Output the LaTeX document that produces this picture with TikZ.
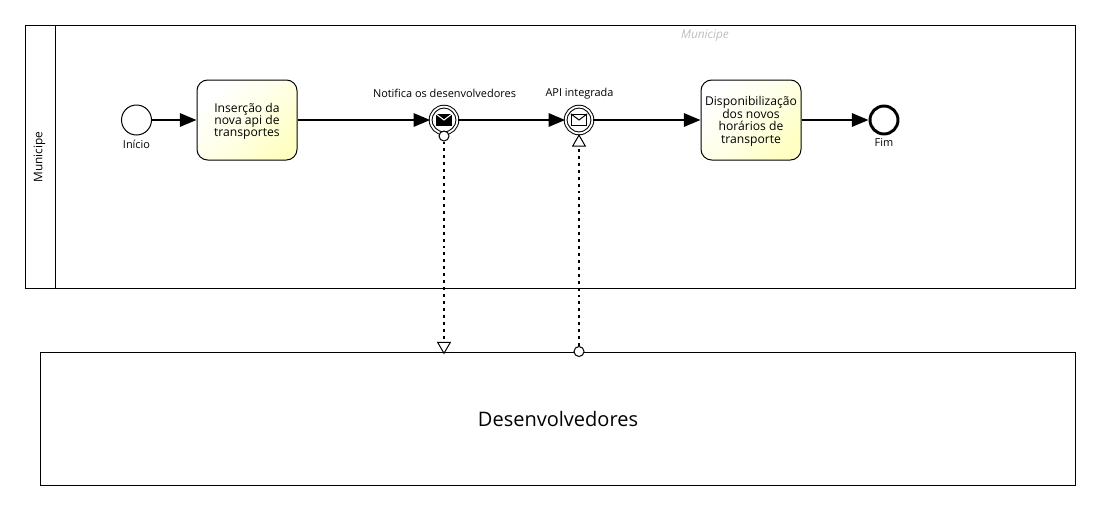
\documentclass[tikz,border=0pt]{standalone}
\usepackage{fontspec}
\setmainfont{Open Sans}
\usetikzlibrary{arrows.meta,shapes.geometric}
\definecolor{taskyellow}{RGB}{255,255,195}
\definecolor{taskpale}{RGB}{255,255,232}
\newcommand{\tasktop}{\rule{0pt}{9pt}}
\tikzset{
	seqflow/.style={line width=1.7pt,-{Triangle[length=12.5pt,width=10pt]}},
	msgflow/.style={line width=1.9pt,dash pattern=on 2.2pt off 3pt},
	lanebox/.style={draw,line width=0.75pt,inner sep=0pt,anchor=north west,fill=white},
	taskbox/.style={draw,line width=0.75pt,rounded corners=8pt,minimum width=75pt,minimum height=60pt,inner sep=0pt,align=center,font=\fontsize{9.1}{9.3}\selectfont,top color=white,bottom color=taskyellow,middle color=taskpale,shading angle=45},
	startevent/.style={circle,draw,line width=0.75pt,fill=white,minimum size=22.5pt,inner sep=0pt},
	endevent/.style={circle,draw,line width=2.2pt,fill=white,minimum size=21pt,inner sep=0pt},
	msgevent/.style={circle,draw,line width=0.75pt,fill=white,minimum size=20pt,inner sep=0pt,double,double distance=1.4pt},
	envelope/.style={rectangle,draw,line width=0.75pt,minimum width=11.5pt,minimum height=8.5pt,inner sep=0pt},
	flowend/.style={circle,draw,line width=0.75pt,fill=white,minimum size=7.5pt,inner sep=0pt},
	opentip/.style={regular polygon,regular polygon sides=3,draw,line width=0.75pt,fill=white,minimum size=11pt,inner sep=0pt},
	eventlabel/.style={font=\fontsize{8.2}{9}\selectfont,inner sep=0.75pt}
}
\begin{document}
\begin{tikzpicture}[x=0.75pt,y=0.75pt,yscale=-1]
	\useasboundingbox (0,0) rectangle (1100,511);
	% lane
	\node (lane) [lanebox,minimum width=787.5pt,minimum height=197.25pt] at (25,25) {};
	\node (laneHead) [lanebox,minimum width=22.5pt,minimum height=197.25pt] at (25,25) {};
	\node (laneName) [eventlabel,rotate=90,font=\fontsize{8.9}{9}\selectfont] at (39.5,157) {Municipe};
	\node (laneTag) [eventlabel,text=black!25,font=\fontsize{8.9}{9}\selectfont\itshape] at (705,36) {Municipe};
	% pool
	\node (pool) [lanebox,minimum width=776.25pt,minimum height=100.1pt] at (40,351.5) {};
	\node (poolName) [inner sep=0.75pt,font=\fontsize{15}{16}\selectfont] at (558,419) {Desenvolvedores};
	% flow elements
	\node (inicio) [startevent] at (136.5,120) {};
	\node (insercao) [taskbox] at (247,120) {\tasktop Inserção da\\nova api de\\transportes};
	\node (notifica) [msgevent] at (444,120) {};
	\node (integrada) [msgevent] at (579,120) {};
	\node (dispon) [taskbox] at (751,120) {\tasktop Disponibilização\\dos novos\\horários de\\transporte};
	\node (fim) [endevent] at (884,120) {};
	\node (inicioLabel) [eventlabel] at (136.5,144) {Início};
	\node (notificaLabel) [eventlabel] at (444.5,93.5) {Notifica os desenvolvedores};
	\node (integradaLabel) [eventlabel] at (579.5,93.5) {API integrada};
	\node (fimLabel) [eventlabel] at (884,142.5) {Fim};
	% envelopes
	\node (mailA) [envelope,fill=black] at (444,120) {};
	\draw [white,line width=0.75pt] (mailA.north west) -- (mailA.center) -- (mailA.north east);
	\node (mailB) [envelope,fill=white] at (579,120) {};
	\draw [line width=0.75pt] (mailB.north west) -- (mailB.center) -- (mailB.north east);
	% sequence flows
	\draw [seqflow] (inicio) -- (insercao);
	\draw [seqflow] (insercao) -- (notifica);
	\draw [seqflow] (notifica) -- (integrada);
	\draw [seqflow] (integrada) -- (dispon);
	\draw [seqflow] (dispon) -- (fim);
	% message flows
	\node (srcA) [flowend] at (444,136) {};
	\node (tipA) [opentip,shape border rotate=180] at (444,346) {};
	\node (srcB) [flowend] at (579,351.5) {};
	\node (tipB) [opentip] at (579,142.5) {};
	\draw [msgflow] (srcA) -- (tipA);
	\draw [msgflow] (srcB) -- (tipB);
\end{tikzpicture}
\end{document}
